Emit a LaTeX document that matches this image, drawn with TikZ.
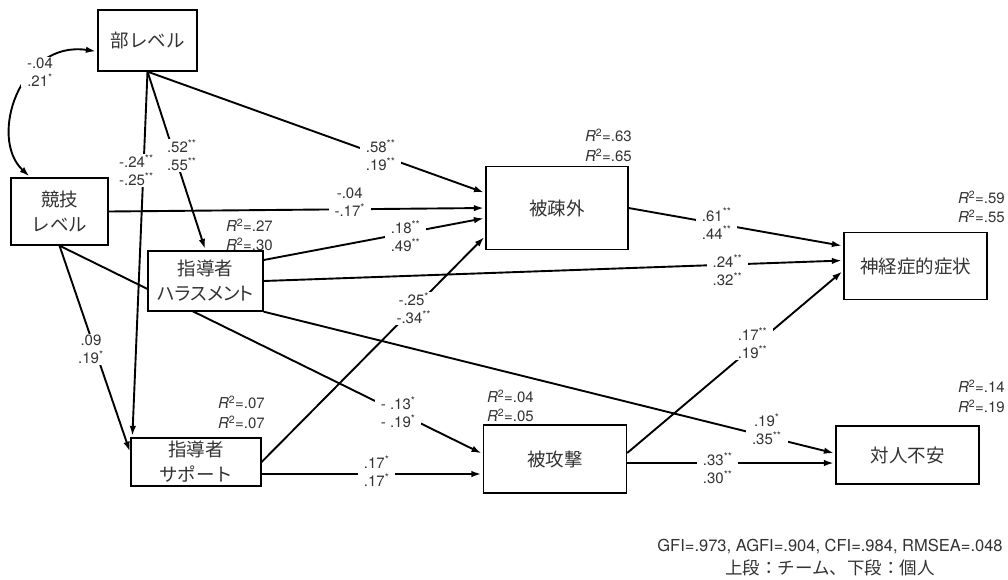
\documentclass[tikz,border=0pt]{standalone}
\usepackage{fontspec}
\setmainfont{TeX Gyre Heros}
\newfontfamily\jp{Noto Sans CJK JP}
\newfontfamily\jpp[RawFeature=+palt]{Noto Sans CJK JP}
\usetikzlibrary{arrows.meta,backgrounds}
\newcommand{\sig}[1]{\textsuperscript{#1}}
\newcommand{\rsq}[1]{\textit{R}\textsuperscript{2}=#1}

\begin{document}
\begin{tikzpicture}[x=1pt, y=-1pt, >={Latex[length=10pt,width=6.5pt]},
	var/.style={draw, line width=1.3pt, fill=white, inner sep=0pt, align=center, text=black!80, font=\jp\fontsize{18.5}{25}\selectfont},
	coef/.style={fill=white, inner xsep=6pt, inner ysep=1pt, align=center, text=black!80, font=\fontsize{15}{18}\selectfont},
	rsqlbl/.style={inner sep=0pt, align=right, text=black!80, font=\fontsize{15}{19.5}\selectfont},
	arr/.style={->, line width=1.9pt, shorten >=1.5pt}]
	\useasboundingbox (0,0) rectangle (1008,579);
	% variables
	\node[var, minimum width=99, minimum height=61] (bu) at (147.5,40.5) {部レベル};
	\node[var, minimum width=97, minimum height=67] (kyogi) at (59.5,211.5) {競技\\レベル};
	\node[var, minimum width=115, minimum height=60] (hara) at (205.5,281) {指導者\\{\jpp ハラスメント}};
	\node[var, minimum width=130, minimum height=48] (sup) at (196,462) {指導者\\サポート};
	\node[var, minimum width=142, minimum height=83] (hiso) at (557,208) {被疎外};
	\node[var, minimum width=143, minimum height=68] (hiko) at (555,459) {被攻撃};
	\node[var, minimum width=143, minimum height=67] (shinkei) at (915.5,266) {神経症的症状};
	\node[var, minimum width=143, minimum height=58] (taijin) at (907.5,455) {対人不安};
	% R^2
	\node[rsqlbl, anchor=east] (rhara) at (273,235) {\rsq{.27}\\\rsq{.30}};
	\node[rsqlbl, anchor=east] (rsup) at (265,412.5) {\rsq{.07}\\\rsq{.07}};
	\node[rsqlbl, anchor=east] (rhiso) at (632,145.5) {\rsq{.63}\\\rsq{.65}};
	\node[rsqlbl, anchor=east] (rhiko) at (534,406) {\rsq{.04}\\\rsq{.05}};
	\node[rsqlbl, anchor=east] (rshinkei) at (1005,207) {\rsq{.59}\\\rsq{.55}};
	\node[rsqlbl, anchor=east] (rtaijin) at (1005,396.5) {\rsq{.14}\\\rsq{.19}};
	% paths
	\begin{scope}[on background layer]
	\draw[<->, line width=1.9pt, shorten >=1.5pt, shorten <=1.5pt] ([xshift=-29]kyogi.north) .. controls (-12,138) and (20,40) .. ([yshift=-11]bu.west);
	\draw[arr] (bu.south) -- ([yshift=15]hiso.west) node[coef, pos=0.69] {.58\sig{**}\\.19\sig{**}};
	\draw[arr] (bu.south) -- ([xshift=2]sup.north west) node[coef, pos=0.27, xshift=-7] {-.24\sig{**}\\-.25\sig{**}};
	\draw[arr] (bu.south) -- (hara.north) node[coef, pos=0.47, xshift=7] {.52\sig{**}\\.55\sig{**}};
	\draw[arr] (kyogi.east) -- (hiso.west) node[coef, pos=0.64, yshift=7] {-.04\\-.17\sig{*}};
	\draw[arr] (kyogi.south) -- ([yshift=5]hiko.west) node[coef, pos=0.8] {- .13\sig{*}\\- .19\sig{*}};
	\draw[arr] (kyogi.south) -- ([yshift=9]sup.west) node[coef, pos=0.5, xshift=-4] {.09\\.19\sig{*}};
	\draw[arr] ([yshift=21]hara.east) -- ([yshift=-10]hiso.west) node[coef, pos=0.64, yshift=-3] {.18\sig{**}\\.49\sig{**}};
	\draw[arr] (hara.east) -- ([yshift=5.5]shinkei.west) node[coef, pos=0.8, yshift=-6] {.24\sig{**}\\.32\sig{**}};
	\draw[arr] (hara.south east) -- ([yshift=1.5]taijin.west) node[coef, pos=0.88, yshift=7] {.19\sig{*}\\.35\sig{**}};
	\draw[arr] (sup.east) -- ([yshift=-28]hiso.west) node[coef, pos=0.68] {-.25\sig{*}\\-.34\sig{**}};
	\draw[arr] ([yshift=-12]sup.east) -- ([yshift=-15]hiko.west) node[coef, pos=0.52, yshift=2.5] {.17\sig{*}\\.17\sig{*}};
	\draw[arr] (hiso.east) -- ([yshift=20]shinkei.west) node[coef, pos=0.41] {.61\sig{**}\\.44\sig{**}};
	\draw[arr] ([yshift=6]hiko.east) -- ([yshift=-4.5]shinkei.west) node[coef, pos=0.58, yshift=4] {.17\sig{**}\\.19\sig{**}};
	\draw[arr] ([yshift=-4]hiko.east) -- ([yshift=-8]taijin.west) node[coef, pos=0.435, yshift=-5.5] {.33\sig{**}\\.30\sig{**}};
	\end{scope}
	\node[coef] (corr) at (40,72) {-.04\\.21\sig{*}};
	% fit indices
	\node[text=black!80, font=\fontsize{16.5}{18}\selectfont] (fitidx) at (830,547) {GFI=.973, AGFI=.904, CFI=.984, RMSEA=.048};
	\node[text=black!80, font=\jp\fontsize{17.5}{18}\selectfont] (note) at (830,568) {上段：チーム、下段：個人};
\end{tikzpicture}
\end{document}
